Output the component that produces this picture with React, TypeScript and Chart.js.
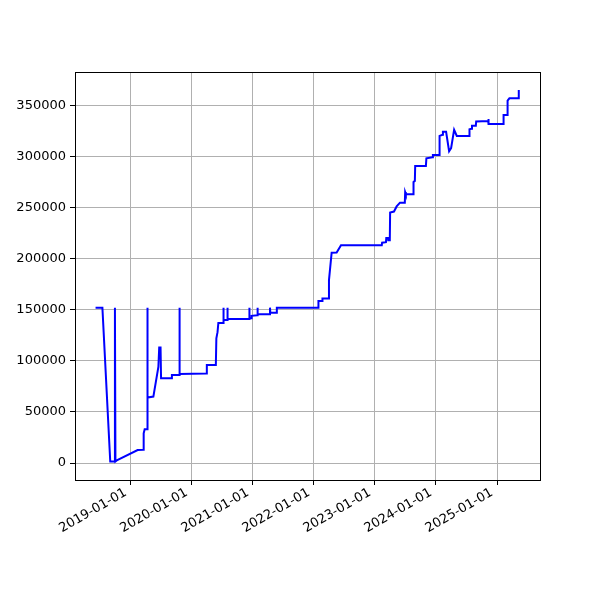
import React, { useEffect, useRef } from "react";
import { Chart, registerables } from "chart.js";

Chart.register(...registerables);

const dates: string[] = [
  "2018-06-04", "2018-07-15", "2018-08-31", "2018-09-25", "2018-09-28", "2018-10-01", "2018-10-09",
  "2019-02-11", "2019-03-17", "2019-03-19", "2019-03-25", "2019-04-09", "2019-04-10", "2019-04-12",
  "2019-05-16", "2019-06-15", "2019-06-20", "2019-06-28", "2019-07-01", "2019-09-02", "2019-09-04",
  "2019-10-18", "2019-10-19", "2019-10-21", "2020-03-29", "2020-03-31", "2020-05-24", "2020-05-27",
  "2020-06-03", "2020-06-08", "2020-07-07", "2020-07-08", "2020-07-10", "2020-07-31", "2020-08-01",
  "2020-08-03", "2020-12-09", "2020-12-10", "2020-12-12", "2020-12-22", "2020-12-24", "2021-01-27",
  "2021-01-28", "2021-01-30", "2021-04-12", "2021-04-13", "2021-04-15", "2021-05-22", "2021-05-24",
  "2022-01-26", "2022-01-28", "2022-02-19", "2022-02-21", "2022-03-27", "2022-04-01", "2022-04-17",
  "2022-05-17", "2022-06-12", "2023-02-11", "2023-02-13", "2023-03-08", "2023-03-10", "2023-03-21",
  "2023-03-22", "2023-03-31", "2023-04-02", "2023-04-25", "2023-05-11", "2023-05-31", "2023-06-29",
  "2023-07-01", "2023-07-05", "2023-08-18", "2023-08-20", "2023-08-28", "2023-08-30", "2023-11-02",
  "2023-11-05", "2023-12-12", "2023-12-14", "2024-01-21", "2024-01-23", "2024-02-10", "2024-02-12",
  "2024-03-02", "2024-03-20", "2024-04-01", "2024-04-19", "2024-05-05", "2024-07-18", "2024-07-20",
  "2024-08-02", "2024-08-04", "2024-08-27", "2024-08-29", "2024-11-09", "2024-11-10", "2024-11-12",
  "2025-02-07", "2025-02-09", "2025-03-03", "2025-03-05", "2025-03-16", "2025-05-09", "2025-05-11",
];

const values: number[] = [
  152000, 152000, 1500, 1500, 152000, 1500, 2500,
  12700, 13000, 29000, 33000, 33000, 152000, 64000,
  65000, 94000, 113000, 113000, 83000, 83000, 86000,
  86000, 152000, 87000, 87500, 96000, 96000, 122000,
  128000, 137000, 137000, 152000, 140000, 140000, 152000,
  141000, 141000, 152000, 141500, 141500, 144000, 144500,
  152000, 145500, 145500, 152000, 147000, 147000, 152000,
  152000, 158500, 158500, 161000, 161000, 179000, 205800,
  206000, 213000, 213000, 215500, 216000, 220000, 220000,
  218000, 218000, 245000, 246000, 251000, 254700, 254700,
  265000, 263000, 263000, 275000, 276000, 290500, 290500,
  298000, 299000, 301400, 301400, 320000, 321000, 324000,
  324000, 305000, 308000, 326000, 320000, 320000, 326500,
  327000, 330000, 330000, 334000, 334500, 336500, 331600,
  331600, 340500, 340500, 354500, 356800, 356800, 365000,
];

const xTickDates: string[] = [
  "2019-01-01", "2020-01-01", "2021-01-01", "2022-01-01", "2023-01-01", "2024-01-01", "2025-01-01",
];
const yTickValues: number[] = [0, 50000, 100000, 150000, 200000, 250000, 300000, 350000];

const xMinDate = "2018-02-01";
const xMaxDate = "2025-09-15";
const yMin = -16600;
const yMax = 382500;

const toMs = (d: string) => Date.parse(d + "T00:00:00Z");

const frame = {
  id: "frame",
  afterDraw(chart: any) {
    const { ctx, chartArea } = chart;
    ctx.save();
    ctx.strokeStyle = "#000";
    ctx.lineWidth = 1;
    ctx.strokeRect(
      Math.round(chartArea.left) + 0.5,
      Math.round(chartArea.top) + 0.5,
      Math.round(chartArea.right - chartArea.left),
      Math.round(chartArea.bottom - chartArea.top)
    );
    ctx.restore();
  },
};

export default function App() {
  const ref = useRef<HTMLCanvasElement | null>(null);
  useEffect(() => {
    document.body.style.margin = "0";
    const canvas = ref.current!;
    const data = dates.map((d, i) => ({ x: toMs(d), y: values[i] }));
    const font = { family: "'DejaVu Sans', sans-serif", size: 13 };
    const chart = new Chart(canvas, {
      type: "line",
      data: {
        datasets: [
          {
            data,
            borderColor: "#0000ff",
            borderWidth: 2,
            pointRadius: 0,
            tension: 0,
            fill: false,
          },
        ],
      },
      options: {
        animation: false,
        responsive: false,
        devicePixelRatio: 1,
        parsing: false as any,
        layout: { padding: { left: 0, right: 60, top: 72, bottom: 0 } },
        plugins: { legend: { display: false }, tooltip: { enabled: false } },
        scales: {
          x: {
            type: "linear",
            min: toMs(xMinDate),
            max: toMs(xMaxDate),
            afterBuildTicks: (s: any) => {
              s.ticks = xTickDates.map((d) => ({ value: toMs(d) }));
            },
            afterFit: (s: any) => {
              s.height = 120;
            },
            border: { display: false },
            grid: { color: "#b0b0b0", lineWidth: 1, tickColor: "#000", tickLength: 5 },
            ticks: {
              color: "#000",
              font,
              padding: 0,
              labelOffset: -5,
              minRotation: 30,
              maxRotation: 30,
              autoSkip: false,
              callback: (v: any) => new Date(Number(v)).toISOString().slice(0, 10),
            },
          },
          y: {
            type: "linear",
            min: yMin,
            max: yMax,
            afterBuildTicks: (s: any) => {
              s.ticks = yTickValues.map((v) => ({ value: v }));
            },
            afterFit: (s: any) => {
              s.width = 75;
            },
            border: { display: false },
            grid: { color: "#b0b0b0", lineWidth: 1, tickColor: "#000", tickLength: 5 },
            ticks: {
              color: "#000",
              font,
              padding: 4,
              callback: (v: any) => String(v),
            },
          },
        },
      },
      plugins: [frame],
    });
    return () => chart.destroy();
  }, []);
  return (
    <div style={{ width: 600, height: 600 }}>
      <canvas ref={ref} width={600} height={600} style={{ display: "block" }} />
    </div>
  );
}
